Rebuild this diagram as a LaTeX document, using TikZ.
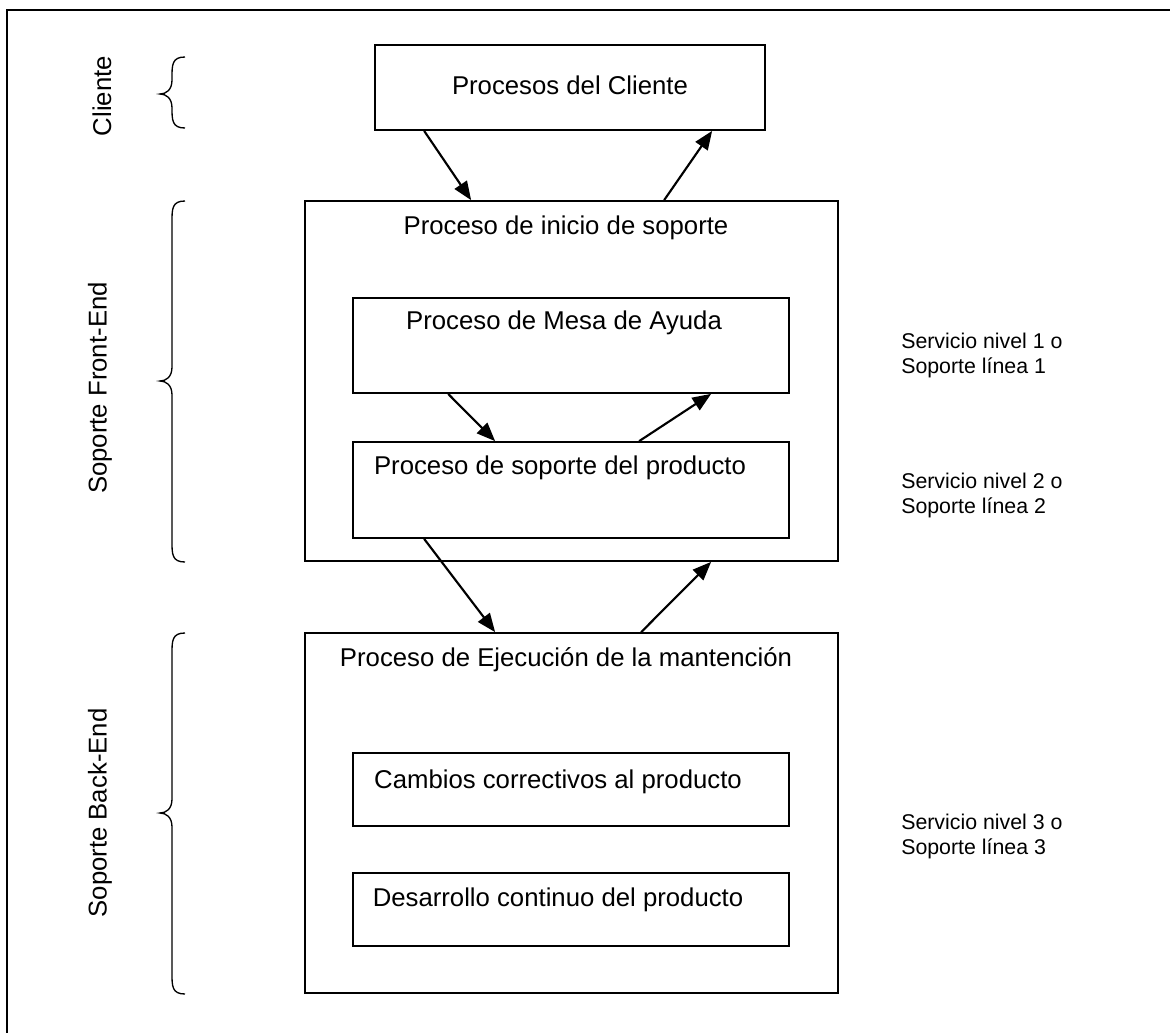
\documentclass[tikz,border=0pt]{standalone}
\usepackage{fontspec}
\setmainfont{Liberation Sans}
\usetikzlibrary{arrows.meta,calc,fit}
% left curly brace: x of the open ends, top y, tip y, bottom y
\newcommand\curlybrace[4]{%
  \draw[brace] (#1,#2) .. controls ({#1-13},#2) and ({#1-13},{#2+8}) .. ({#1-13},{#2+20})
    -- ({#1-13},{#3-14}) .. controls ({#1-13},{#3-4}) and ({#1-19},#3) .. ({#1-25},#3)
    .. controls ({#1-19},#3) and ({#1-13},{#3+4}) .. ({#1-13},{#3+14})
    -- ({#1-13},{#4-20}) .. controls ({#1-13},{#4-8}) and ({#1-13},#4) .. (#1,#4);}
\begin{document}
\begin{tikzpicture}[x=0.75pt,y=-0.75pt,
  box/.style={draw,line width=1.3pt,inner sep=0pt,rectangle},
  lbl/.style={font=\fontsize{19.3}{23}\selectfont,inner sep=0pt},
  side/.style={font=\fontsize{16}{18.75}\selectfont,align=left,anchor=west,inner sep=0pt},
  arr/.style={line width=1.6pt,-{Triangle[length=14pt,width=11pt]}},
  brace/.style={line width=1pt},
  ]
\useasboundingbox (0,0) rectangle (1170,1032);
% page frame
\draw[line width=1.5pt] (7,1040) -- (7,10) -- (1180,10);

% group labels and braces
\node[lbl,rotate=90] (lcl) at (102,96) {Cliente};
\node[lbl,rotate=90] (lfe) at (100,388) {Soporte Front-End};
\node[lbl,rotate=90] (lbe) at (100,813) {Soporte Back-End};
\curlybrace{185}{57}{94}{128}
\curlybrace{185}{201}{381}{562}
\curlybrace{185}{633}{813}{994}

% process boxes
\node[box,fit={(375,45)(765,130)}] (cl) {};
\node[box,fit={(305,201)(838,561)}] (fe) {};
\node[box,fit={(353,298)(789,393)}] (me) {};
\node[box,fit={(353,442)(789,538)}] (pr) {};
\node[box,fit={(305,633)(838,993)}] (be) {};
\node[box,fit={(353,753)(789,826)}] (cc) {};
\node[box,fit={(353,873)(789,946)}] (dc) {};

% box titles
\node[lbl] (tcl) at (570,85) {Procesos del Cliente};
\node[lbl] (tfe) at (566,228) {Proceso de inicio de soporte};
\node[lbl] (tme) at (564,323) {Proceso de Mesa de Ayuda};
\node[lbl] (tpr) at (560,468) {Proceso de soporte del producto};
\node[lbl] (tbe) at (566,660) {Proceso de Ejecución de la mantención};
\node[lbl] (tcc) at (558,782) {Cambios correctivos al producto};
\node[lbl] (tdc) at (558,900) {Desarrollo continuo del producto};

% support levels
\node[side] (s1) at (901,355) {Servicio nivel 1 o\\Soporte línea 1};
\node[side] (s2) at (901,495) {Servicio nivel 2 o\\Soporte línea 2};
\node[side] (s3) at (901,836) {Servicio nivel 3 o\\Soporte línea 3};

% escalation arrows
\draw[arr] ($(cl.south west)+(50,0)$) -- ($(fe.north west)+(167,0)$);
\draw[arr] ($(fe.north west)+(360,0)$) -- ($(cl.south west)+(338,0)$);
\draw[arr] ($(me.south west)+(96,0)$) -- ($(pr.north west)+(143,0)$);
\draw[arr] ($(pr.north west)+(287,0)$) -- ($(me.south west)+(359,0)$);
\draw[arr] ($(pr.south west)+(72,0)$) -- ($(be.north west)+(191,0)$);
\draw[arr] ($(be.north west)+(337,0)$) -- ($(fe.south west)+(407,0)$);
\end{tikzpicture}
\end{document}
